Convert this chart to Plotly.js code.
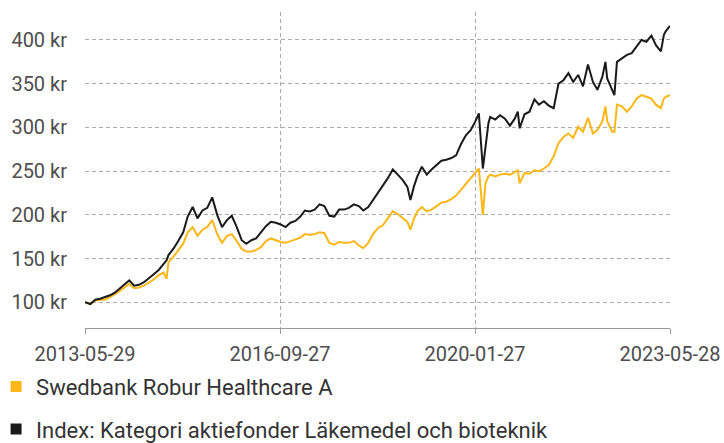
<!DOCTYPE html>
<html><head><meta charset="utf-8">
<script src="https://cdn.plot.ly/plotly-3.0.1.min.js"></script>
<style>html,body{margin:0;padding:0;background:#fff}#chart{width:724px;height:443px}</style>
</head><body><div id="chart"></div>
<script>
const dates = ["2013-05-29","2013-07-01","2013-08-01","2013-09-01","2013-10-01","2013-11-01","2013-12-01",
"2014-01-01","2014-02-01","2014-03-01","2014-04-01","2014-05-01","2014-06-01","2014-07-01","2014-08-01","2014-09-01","2014-10-01","2014-10-20","2014-11-01","2014-12-01",
"2015-01-01","2015-02-01","2015-03-01","2015-04-01","2015-05-01","2015-06-01","2015-07-01","2015-08-01","2015-09-01","2015-10-01","2015-11-01","2015-12-01",
"2016-01-01","2016-02-01","2016-03-01","2016-04-01","2016-05-01","2016-06-01","2016-07-01","2016-08-01","2016-09-01","2016-10-01","2016-11-01","2016-12-01",
"2017-01-01","2017-02-01","2017-03-01","2017-04-01","2017-05-01","2017-06-01","2017-07-01","2017-08-01","2017-09-01","2017-10-01","2017-11-01","2017-12-01",
"2018-01-01","2018-02-01","2018-03-01","2018-04-01","2018-05-01","2018-06-01","2018-07-01","2018-08-01","2018-09-01","2018-10-01","2018-11-01","2018-12-01","2018-12-20",
"2019-01-10","2019-02-01","2019-03-01","2019-04-01","2019-05-01","2019-06-01","2019-07-01","2019-08-01","2019-09-01","2019-10-01","2019-11-01","2019-12-01",
"2020-01-01","2020-02-01","2020-02-20","2020-03-16","2020-04-01","2020-04-20","2020-05-01","2020-06-01","2020-07-01","2020-08-01","2020-09-01","2020-10-01","2020-10-20","2020-11-01","2020-12-01",
"2021-01-01","2021-02-01","2021-03-01","2021-04-01","2021-05-01","2021-06-01","2021-07-01","2021-08-01","2021-09-01","2021-10-01","2021-11-01","2021-12-01",
"2022-01-01","2022-02-01","2022-03-01","2022-04-01","2022-04-20","2022-05-01","2022-06-01","2022-06-15","2022-07-01","2022-08-01","2022-09-01","2022-10-01","2022-11-01","2022-12-01",
"2023-01-01","2023-02-01","2023-03-01","2023-04-01","2023-04-20","2023-05-01","2023-05-28"];

const fund = [100,98,102,103,103,106,109,
113,117,121,116,117,119,122,126,131,134,127,146,152,
160,167,180,186,176,183,186,194,178,168,176,178,
170,161,158,158,160,163,170,173,171,169,168,170,
172,174,178,177,178,180,179,168,166,169,168,168,
170,165,162,168,178,185,188,196,204,201,196,192,183,
195,204,209,204,206,210,214,215,218,222,229,236,
242,250,253,200,236,244,246,244,246,247,246,249,251,236,248,
247,251,250,253,257,267,282,289,293,288,301,295,
311,293,297,307,324,307,295,295,326,324,318,324,333,337,
335,333,326,322,333,335,337];

const index = [100,98,103,104,106,108,111,
116,121,125,119,120,123,127,132,137,143,148,154,161,
170,180,198,209,196,205,208,220,200,186,194,199,
186,171,167,171,173,180,187,192,191,189,186,191,
193,198,205,204,206,212,210,199,198,206,206,208,
212,210,205,209,217,226,234,242,252,246,240,232,217,
232,244,255,246,252,257,262,263,265,268,281,291,
297,308,316,253,280,305,312,309,314,310,302,310,318,299,315,
318,332,326,330,325,322,350,354,362,352,360,347,
372,352,343,358,375,356,343,337,375,379,383,385,393,400,
398,405,394,387,406,410,416];

const seriesNames = ["Swedbank Robur Healthcare A","Index: Kategori aktiefonder Läkemedel och bioteknik"];
const seriesColors = ["#fbb617","#1a1a1a"];
const xTicks = ["2013-05-29","2016-09-27","2020-01-27","2023-05-28"];
const yTicks = [100,150,200,250,300,350,400];
const yTickText = yTicks.map(v => v + " kr");

const font = "Roboto, 'Noto Sans', sans-serif";
const traces = [
  {x: dates, y: fund, type:"scatter", mode:"lines", line:{color:seriesColors[0], width:2}, showlegend:false, hoverinfo:"skip"},
  {x: dates, y: index, type:"scatter", mode:"lines", line:{color:seriesColors[1], width:2}, showlegend:false, hoverinfo:"skip"},
  {x:[null], y:[null], type:"scatter", mode:"markers", name:seriesNames[0], legendgroup:"a", marker:{symbol:"square", size:11, color:seriesColors[0]}},
  {x:[null], y:[null], type:"scatter", mode:"markers", name:seriesNames[1], legendgroup:"b", marker:{symbol:"square", size:11, color:seriesColors[1]}}
];
const layout = {
  width:724, height:443,
  margin:{l:85, r:54, t:12, b:115, autoexpand:false},
  paper_bgcolor:"#fff", plot_bgcolor:"#fff",
  font:{family:font, size:20, color:"#4d4d4d"},
  xaxis:{type:"date", range:[xTicks[0], xTicks[3]], tickvals:xTicks, ticktext:xTicks,
    showgrid:true, gridcolor:"#ababab", griddash:"4px,3px", gridwidth:1,
    showline:true, linecolor:"#9a9a9a", linewidth:1, ticks:"outside", ticklen:5, tickcolor:"#9a9a9a",
    ticklabelstandoff:3, zeroline:false, fixedrange:true, automargin:false},
  yaxis:{range:[70.6,432], tickvals:yTicks, ticktext:yTickText,
    showgrid:true, gridcolor:"#ababab", griddash:"4px,3px", gridwidth:1,
    showline:false, ticks:"", ticklabelstandoff:17, zeroline:false, fixedrange:true, automargin:false},
  legend:{x:-0.152, xanchor:"left", y:-0.119, yanchor:"top", orientation:"v",
    traceorder:"grouped", tracegroupgap:11, font:{family:font, size:22, color:"#333"}, bgcolor:"rgba(0,0,0,0)"},
  showlegend:true
};
Plotly.newPlot("chart", traces, layout, {displayModeBar:false, staticPlot:true});
</script></body></html>
